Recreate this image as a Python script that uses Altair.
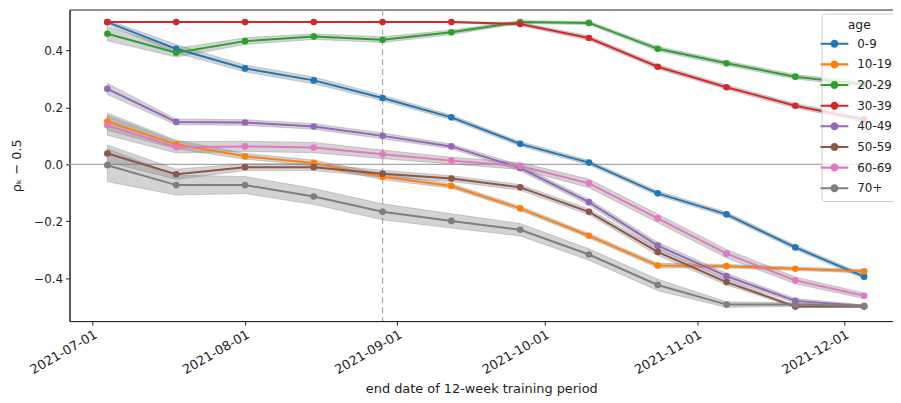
import altair as alt
import pandas as pd

dates = ["2021-07-04", "2021-07-18", "2021-08-01", "2021-08-15", "2021-08-29", "2021-09-12",
         "2021-09-26", "2021-10-10", "2021-10-24", "2021-11-07", "2021-11-21", "2021-12-05"]
ages = ["0-9", "10-19", "20-29", "30-39", "40-49", "50-59", "60-69", "70+"]
colors = ["#1f77b4", "#ff7f0e", "#2ca02c", "#d62728", "#9467bd", "#8c564b", "#e377c2", "#7f7f7f"]

v_0_9 = [0.5, 0.406, 0.337, 0.295, 0.233, 0.165, 0.072, 0.006, -0.102, -0.176, -0.292, -0.395]
v_10_19 = [0.15, 0.07, 0.028, 0.005, -0.044, -0.076, -0.155, -0.251, -0.356, -0.358, -0.367, -0.376]
v_20_29 = [0.459, 0.392, 0.433, 0.449, 0.438, 0.464, 0.5, 0.497, 0.406, 0.355, 0.308, 0.281]
v_30_39 = [0.5, 0.5, 0.5, 0.5, 0.5, 0.5, 0.493, 0.444, 0.343, 0.271, 0.206, 0.157]
v_40_49 = [0.265, 0.149, 0.147, 0.133, 0.1, 0.063, -0.013, -0.133, -0.286, -0.393, -0.48, -0.498]
v_50_59 = [0.038, -0.035, -0.01, -0.01, -0.033, -0.05, -0.081, -0.167, -0.308, -0.414, -0.5, -0.5]
v_60_69 = [0.137, 0.06, 0.063, 0.059, 0.035, 0.013, -0.006, -0.067, -0.19, -0.314, -0.408, -0.462]
v_70 = [-0.003, -0.073, -0.073, -0.113, -0.167, -0.199, -0.23, -0.317, -0.424, -0.493, -0.493, -0.498]

# half-width of the grey uncertainty band
ci_0_9 = [0.008, 0.015, 0.012, 0.012, 0.01, 0.008, 0.008, 0.008, 0.008, 0.008, 0.008, 0.008]
ci_10_19 = [0.03, 0.015, 0.01, 0.01, 0.01, 0.008, 0.008, 0.008, 0.008, 0.006, 0.006, 0.006]
ci_20_29 = [0.025, 0.015, 0.012, 0.01, 0.01, 0.008, 0.005, 0.006, 0.008, 0.008, 0.008, 0.008]
ci_30_39 = [0.0, 0.0, 0.0, 0.0, 0.0, 0.002, 0.006, 0.008, 0.008, 0.008, 0.008, 0.008]
ci_40_49 = [0.02, 0.01, 0.01, 0.01, 0.01, 0.008, 0.01, 0.01, 0.012, 0.01, 0.008, 0.004]
ci_50_59 = [0.03, 0.018, 0.012, 0.012, 0.012, 0.01, 0.01, 0.01, 0.012, 0.01, 0.004, 0.002]
ci_60_69 = [0.035, 0.02, 0.018, 0.018, 0.015, 0.012, 0.012, 0.015, 0.015, 0.015, 0.012, 0.01]
ci_70 = [0.058, 0.035, 0.03, 0.028, 0.028, 0.025, 0.022, 0.02, 0.02, 0.01, 0.006, 0.005]

series = [v_0_9, v_10_19, v_20_29, v_30_39, v_40_49, v_50_59, v_60_69, v_70]
bands = [ci_0_9, ci_10_19, ci_20_29, ci_30_39, ci_40_49, ci_50_59, ci_60_69, ci_70]

rows = []
for a, vals, cis in zip(ages, series, bands):
    for d, v, c in zip(dates, vals, cis):
        rows.append({"date": d, "age": a, "value": v, "lo": v - c, "hi": v + c})
df = pd.DataFrame(rows)

split_date = ["2021-08-29"]
tick_dates = [alt.DateTime(year=2021, month=m, date=1, utc=True) for m in [7, 8, 9, 10, 11, 12]]

x_scale = alt.Scale(type="utc", domain=[alt.DateTime(year=2021, month=6, date=26, hours=7, utc=True),
                                         alt.DateTime(year=2021, month=12, date=10, hours=21, utc=True)])
y_scale = alt.Scale(domain=[-0.551, 0.544], nice=False, zero=False)
color_scale = alt.Scale(domain=ages, range=colors)
xtitle = "end date of 12-week training period"
ytitle = "ρₖ − 0.5"

x_enc = alt.X("date:T", scale=x_scale, title=xtitle,
              axis=alt.Axis(values=tick_dates, format="%Y-%m-%d", labelAngle=-30, labelFontSize=13,
                            labelAlign="right", labelBaseline="top", titlePadding=6))
y_enc = alt.Y("value:Q", scale=y_scale, title=ytitle,
              axis=alt.Axis(values=[-0.4, -0.2, 0.0, 0.2, 0.4], format=".1f", titlePadding=10))

legend = alt.Legend(title="age", orient="none", legendX=758, legendY=4)

zero = alt.Chart(pd.DataFrame({"value": [0.0]})).mark_rule(color="#a8a8a8", strokeWidth=1.2).encode(
    y=alt.Y("value:Q", scale=y_scale, title=ytitle))
vline = alt.Chart(pd.DataFrame({"date": split_date})).mark_rule(
    color="#a8a8a8", strokeWidth=1.2, strokeDash=[6, 4]).encode(
    x=alt.X("date:T", scale=x_scale, title=xtitle))

band = alt.Chart(df).mark_area(color="gray", fillOpacity=0.35, stroke="gray", strokeOpacity=0.35,
                               strokeWidth=1).encode(
    x=x_enc, y=alt.Y("lo:Q", scale=y_scale, title=ytitle), y2="hi:Q", detail="age:N")

points = alt.Chart(df).mark_circle(size=45, opacity=1).encode(
    x=x_enc, y=y_enc,
    color=alt.Color("age:N", scale=color_scale, legend=legend))

lines = alt.Chart(df).mark_line(strokeWidth=2).encode(
    x=x_enc, y=y_enc,
    color=alt.Color("age:N", scale=color_scale, legend=legend))

# legend symbol: a short line (thin filled bar) with a dot in the middle
sym = ("M-2,-0.15L2,-0.15L2,0.15L-2,0.15Z"
       "M-0.58,0A0.58,0.58,0,1,1,0.58,0A0.58,0.58,0,1,1,-0.58,0Z")

chart = alt.layer(zero, vline, band, lines, points).properties(
    width=830, height=314,
    autosize=alt.AutoSizeParams(type="none"),
    padding={"left": 62, "top": 0, "right": 0, "bottom": 80},
).configure_view(stroke="#222", strokeWidth=1).configure_axis(
    domainColor="#222", tickColor="#222", labelColor="#222", titleColor="#222",
    labelFont="DejaVu Sans", titleFont="DejaVu Sans", labelFontSize=12, titleFontSize=13,
    titleFontWeight="normal", tickSize=4, grid=False, labelPadding=3,
).configure_legend(
    fillColor="rgba(255,255,255,0.8)", strokeColor="#cccccc", cornerRadius=3, padding=6,
    titleFont="DejaVu Sans", labelFont="DejaVu Sans", titleFontSize=12.5, labelFontSize=12,
    titleFontWeight="normal", titleColor="#222", labelColor="#222", titleAnchor="middle",
    symbolType=sym, symbolSize=196, symbolStrokeWidth=0, symbolOpacity=1,
    labelOffset=16, rowPadding=7.8, titlePadding=5,
)

chart.save("out.html", embed_options={"renderer": "svg", "actions": False})
